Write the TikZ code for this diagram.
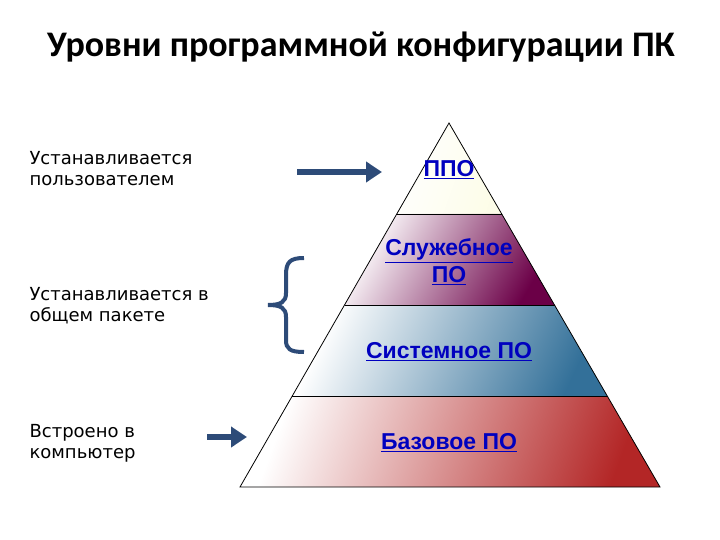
\documentclass[tikz,border=0pt]{standalone}
\usepackage{fontspec}
\usetikzlibrary{arrows.meta}
\setmainfont{Liberation Sans}
\newfontfamily\titlefont{Carlito}
\newfontfamily\leftfont{DejaVu Sans}
\definecolor{arrc}{RGB}{45,75,120}
\begin{document}
\begin{tikzpicture}[x=1pt,y=-1pt,
  lbl/.style={font=\fontsize{23}{27}\selectfont\bfseries, text=blue!75!black, align=center},
  side/.style={font=\leftfont\fontsize{18}{21}\selectfont, align=left, anchor=north west},
  arr/.style={line width=6pt, color=arrc, -{Triangle[length=16pt,width=20pt]}}]
\useasboundingbox (0,0) rectangle (720,540);
\coordinate (A) at (449,123);
\coordinate (BL) at (240,487);
\coordinate (BR) at (660,487);
\coordinate (L1) at (396.75,214); \coordinate (R1) at (501.75,214);
\coordinate (L2) at (344.5,305);  \coordinate (R2) at (554.5,305);
\coordinate (L3) at (292.25,396); \coordinate (R3) at (607.25,396);
\shade[left color=white, middle color=white, right color=gray!20!yellow!10, shading angle=70]
  (A) -- (L1) -- (R1) -- cycle;
\shade[left color=white, middle color=white!85!violet, right color=violet!80!red!70!black, shading angle=60]
  (L1) -- (L2) -- (R2) -- (R1) -- cycle;
\shade[left color=white, middle color=white!85!blue, right color=blue!40!cyan!50!black!80, shading angle=65]
  (L2) -- (L3) -- (R3) -- (R2) -- cycle;
\shade[left color=white, middle color=white!80!red, right color=red!65!black!85, shading angle=70]
  (L3) -- (BL) -- (BR) -- (R3) -- cycle;
\draw[line width=0.8pt] (A) -- (BL) -- (BR) -- cycle;
\draw[line width=0.8pt] (L1) -- (R1) (L2) -- (R2) (L3) -- (R3);
\node[lbl] (p1) at (449,170) {\underline{ППО}};
\node[lbl] (p2) at (449,262) {\underline{Служебное}\\\underline{ПО}};
\node[lbl] (p3) at (449,352) {\underline{Системное ПО}};
\node[lbl] (p4) at (449,443) {\underline{Базовое ПО}};
\node[font=\titlefont\bfseries\fontsize{36}{40}\selectfont] (t) at (361,47) {Уровни программной конфигурации ПК};
\node[side] (s1) at (26,148) {Устанавливается\\пользователем};
\node[side] (s2) at (26,284) {Устанавливается в\\общем пакете};
\node[side] (s3) at (26,421) {Встроено в\\компьютер};
\coordinate (a1) at (297,172);
\coordinate (a1e) at (382,172);
\coordinate (a2) at (207,437);
\coordinate (a2e) at (247,437);
\draw[arr] (a1) -- (a1e);
\draw[arr] (a2) -- (a2e);
\draw[line width=4pt, color=arrc]
  (304,258) .. controls (290,258) and (286,262) .. (286,275) -- (286,293)
  .. controls (286,302) and (281,305) .. (268,305)
  .. controls (281,305) and (286,308) .. (286,317) -- (286,340)
  .. controls (286,349) and (290,352) .. (304,352);
\end{tikzpicture}
\end{document}
